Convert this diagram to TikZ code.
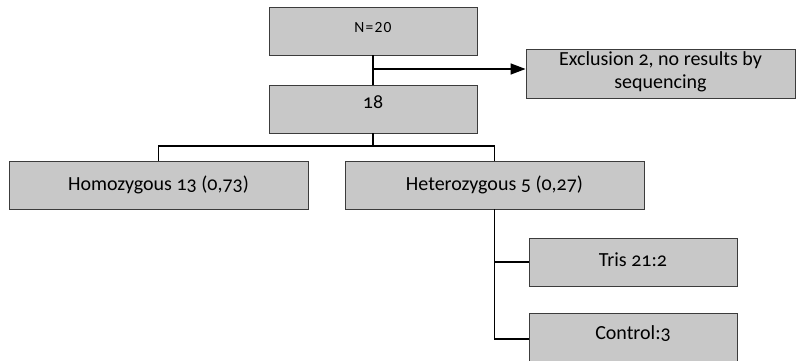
\documentclass[tikz,border=0pt]{standalone}
\usepackage{fontspec}
\setmainfont{Carlito}[Numbers=OldStyle]
\usetikzlibrary{arrows.meta}
\definecolor{boxfill}{RGB}{200,200,200}
\definecolor{boxline}{RGB}{60,60,60}
\begin{document}
\begin{tikzpicture}[x=1pt,y=-1pt,
  box/.style={draw=boxline,fill=boxfill,line width=0.9pt,minimum height=48pt,inner sep=0pt,align=center},
  boxtext/.style={font=\fontsize{20}{23}\selectfont,inner sep=0pt,align=center},
  link/.style={line width=1.6pt,black}]
\useasboundingbox (0,0) rectangle (796,361);
\clip (0,0) rectangle (796,361);
% boxes
\node[box,minimum width=208pt] (n20) at (373,31) {};
\node[box,minimum width=208pt] (n18) at (373,109) {};
\node[box,minimum width=269pt,minimum height=49pt] (excl) at (660.5,73.5) {};
\node[box,minimum width=299pt] (homo) at (158.5,185) {};
\node[box,minimum width=299pt] (het) at (494.5,185) {};
\node[box,minimum width=208pt] (tris) at (633,262) {};
\node[box,minimum width=208pt,minimum height=52pt] (ctrl) at (633,339) {};
% texts
\node[boxtext] (t20) at (373,28) {\addfontfeatures{Numbers=Lining,LetterSpace=8}\fontsize{15.5}{17}\selectfont N=20};
\node[boxtext] (t18) at (373,102) {18};
\node[boxtext] (texcl) at (660.5,72) {Exclusion 2, no results by\\sequencing};
\node[boxtext] (thomo) at (158.5,185) {Homozygous 13 (0,73)};
\node[boxtext] (thet) at (494.5,185) {Heterozygous 5 (0,27)};
\node[boxtext] (ttris) at (633,260) {Tris 21:2};
\node[boxtext] (tctrl) at (633,334) {Control:3};
% connectors
\coordinate (split) at (n20.south |- 0,69);
\draw[link] (n20.south) -- (n18.north);
\draw[link,-{Triangle[length=15pt,width=11pt]}] (split) -- (split -| excl.west);
\coordinate (bus) at (n18.south |- 0,146);
\draw[link] (n18.south) -- (bus);
\draw[link] (homo.north) -- (homo.north |- bus) -- (het.north |- bus) -- (het.north);
\coordinate (hetend) at (het.south |- ctrl.west);
\draw[link] (het.south) -- (hetend) -- (ctrl.west |- hetend);
\draw[link] (het.south |- tris.west) -- (tris.west);
\end{tikzpicture}
\end{document}
